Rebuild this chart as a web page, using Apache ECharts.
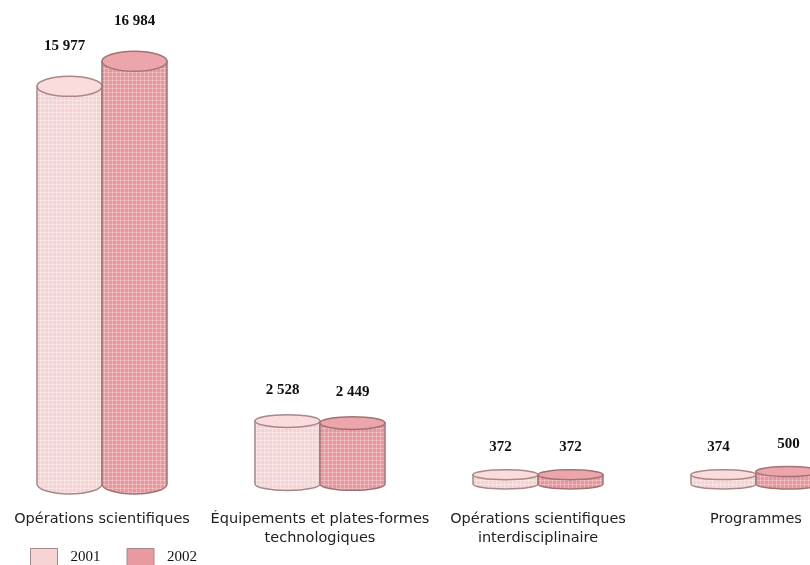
<!DOCTYPE html>
<html>
<head>
<meta charset="utf-8">
<script src="https://cdn.jsdelivr.net/npm/echarts@6/dist/echarts.min.js"></script>
<style>
  html, body { margin: 0; padding: 0; background: #fff; }
  #chart { width: 810px; height: 565px; }
</style>
</head>
<body>
<div id="chart"></div>
<script>
const categories = [
  'Opérations scientifiques',
  'Équipements et plates-formes\ntechnologiques',
  'Opérations scientifiques\ninterdisciplinaire',
  'Programmes'
];
const years = ['2001', '2002'];
const values2001 = [15977, 2528, 372, 374];
const values2002 = [16984, 2449, 372, 500];

const FILLS = ['#f7d4d4', '#e99aa0'];
const TOPS = ['#fadcdc', '#eca6ab'];
const STROKES = ['#a88888', '#a07276'];
const BAR_W = 65;

// little dotted grid, like the print texture
function makePattern(base, line) {
  const c = document.createElement('canvas');
  c.width = 4; c.height = 4;
  const ctx = c.getContext('2d');
  ctx.fillStyle = base;
  ctx.fillRect(0, 0, 4, 4);
  ctx.fillStyle = line;
  ctx.fillRect(0, 0, 4, 1);
  ctx.fillRect(0, 0, 1, 4);
  return { image: c, repeat: 'repeat' };
}
const PATTERNS = [
  makePattern('#f7d2d2', 'rgba(255,255,255,0.35)'),
  makePattern('#e8969c', 'rgba(255,255,255,0.28)')
];

const fmt = (v) => String(v).replace(/\B(?=(\d{3})+(?!\d))/g, ' ');
const SERIF = '"Liberation Serif", "DejaVu Serif", serif';

function cylinder(si) {
  return function (params, api) {
    const idx = api.value(0);
    const top = api.coord([idx, api.value(1)]);
    const base = api.coord([idx, 0]);
    const cx = top[0] + (si === 0 ? -BAR_W / 2 : BAR_W / 2);
    const x0 = cx - BAR_W / 2, x1 = cx + BAR_W / 2;
    const rx = BAR_W / 2;
    const h = base[1] - top[1];
    // flatter caps on the short cylinders
    const ry = 4 + 6 * Math.min(1, Math.sqrt(h / 400));
    const yt = top[1], yb = base[1];
    const body = `M${x0} ${yt} L${x0} ${yb} A${rx} ${ry} 0 0 0 ${x1} ${yb} L${x1} ${yt} Z`;
    const cap = `M${x0} ${yt} A${rx} ${ry} 0 0 0 ${x1} ${yt} A${rx} ${ry} 0 0 0 ${x0} ${yt} Z`;
    return {
      type: 'group',
      children: [
        { type: 'path', shape: { pathData: body }, style: { fill: PATTERNS[si], stroke: STROKES[si], lineWidth: 1.5 } },
        { type: 'path', shape: { pathData: cap }, style: { fill: TOPS[si], stroke: STROKES[si], lineWidth: 1.5 } },
        {
          type: 'text', x: cx - (si === 0 ? 5 : 0), y: yt - 2.5 * ry - 15,
          style: {
            text: fmt(api.value(1)), fill: '#111', align: 'center', verticalAlign: 'middle',
            font: 'bold 15px ' + SERIF
          }
        }
      ]
    };
  };
}

const chart = echarts.init(document.getElementById('chart'));
chart.setOption({
  animation: false,
  backgroundColor: '#fff',
  grid: { left: -7, right: -55, top: 36, bottom: 81, containLabel: false, outerBoundsMode: 'none' },
  legend: {
    data: years,
    left: 30,
    top: 548,
    padding: 0,
    icon: 'rect',
    itemWidth: 27,
    itemHeight: 17,
    itemGap: 26,
    itemStyle: { borderColor: '#a88888', borderWidth: 1 },
    textStyle: { color: '#111', fontSize: 15, fontFamily: SERIF, padding: [0, 0, 0, 8] }
  },
  xAxis: {
    type: 'category',
    data: categories,
    axisLine: { show: false },
    axisTick: { show: false },
    axisLabel: {
      interval: 0, margin: 26, lineHeight: 19,
      color: '#222', fontSize: 14.5, fontFamily: '"DejaVu Sans", sans-serif'
    }
  },
  yAxis: { type: 'value', min: 0, max: 18000, show: false, splitLine: { show: false } },
  series: [
    {
      name: years[0], type: 'custom', renderItem: cylinder(0),
      itemStyle: { color: FILLS[0] },
      encode: { x: 0, y: 1 },
      data: values2001.map((v, i) => [i, v])
    },
    {
      name: years[1], type: 'custom', renderItem: cylinder(1),
      itemStyle: { color: FILLS[1] },
      encode: { x: 0, y: 1 },
      data: values2002.map((v, i) => [i, v])
    }
  ]
});
</script>
</body>
</html>
